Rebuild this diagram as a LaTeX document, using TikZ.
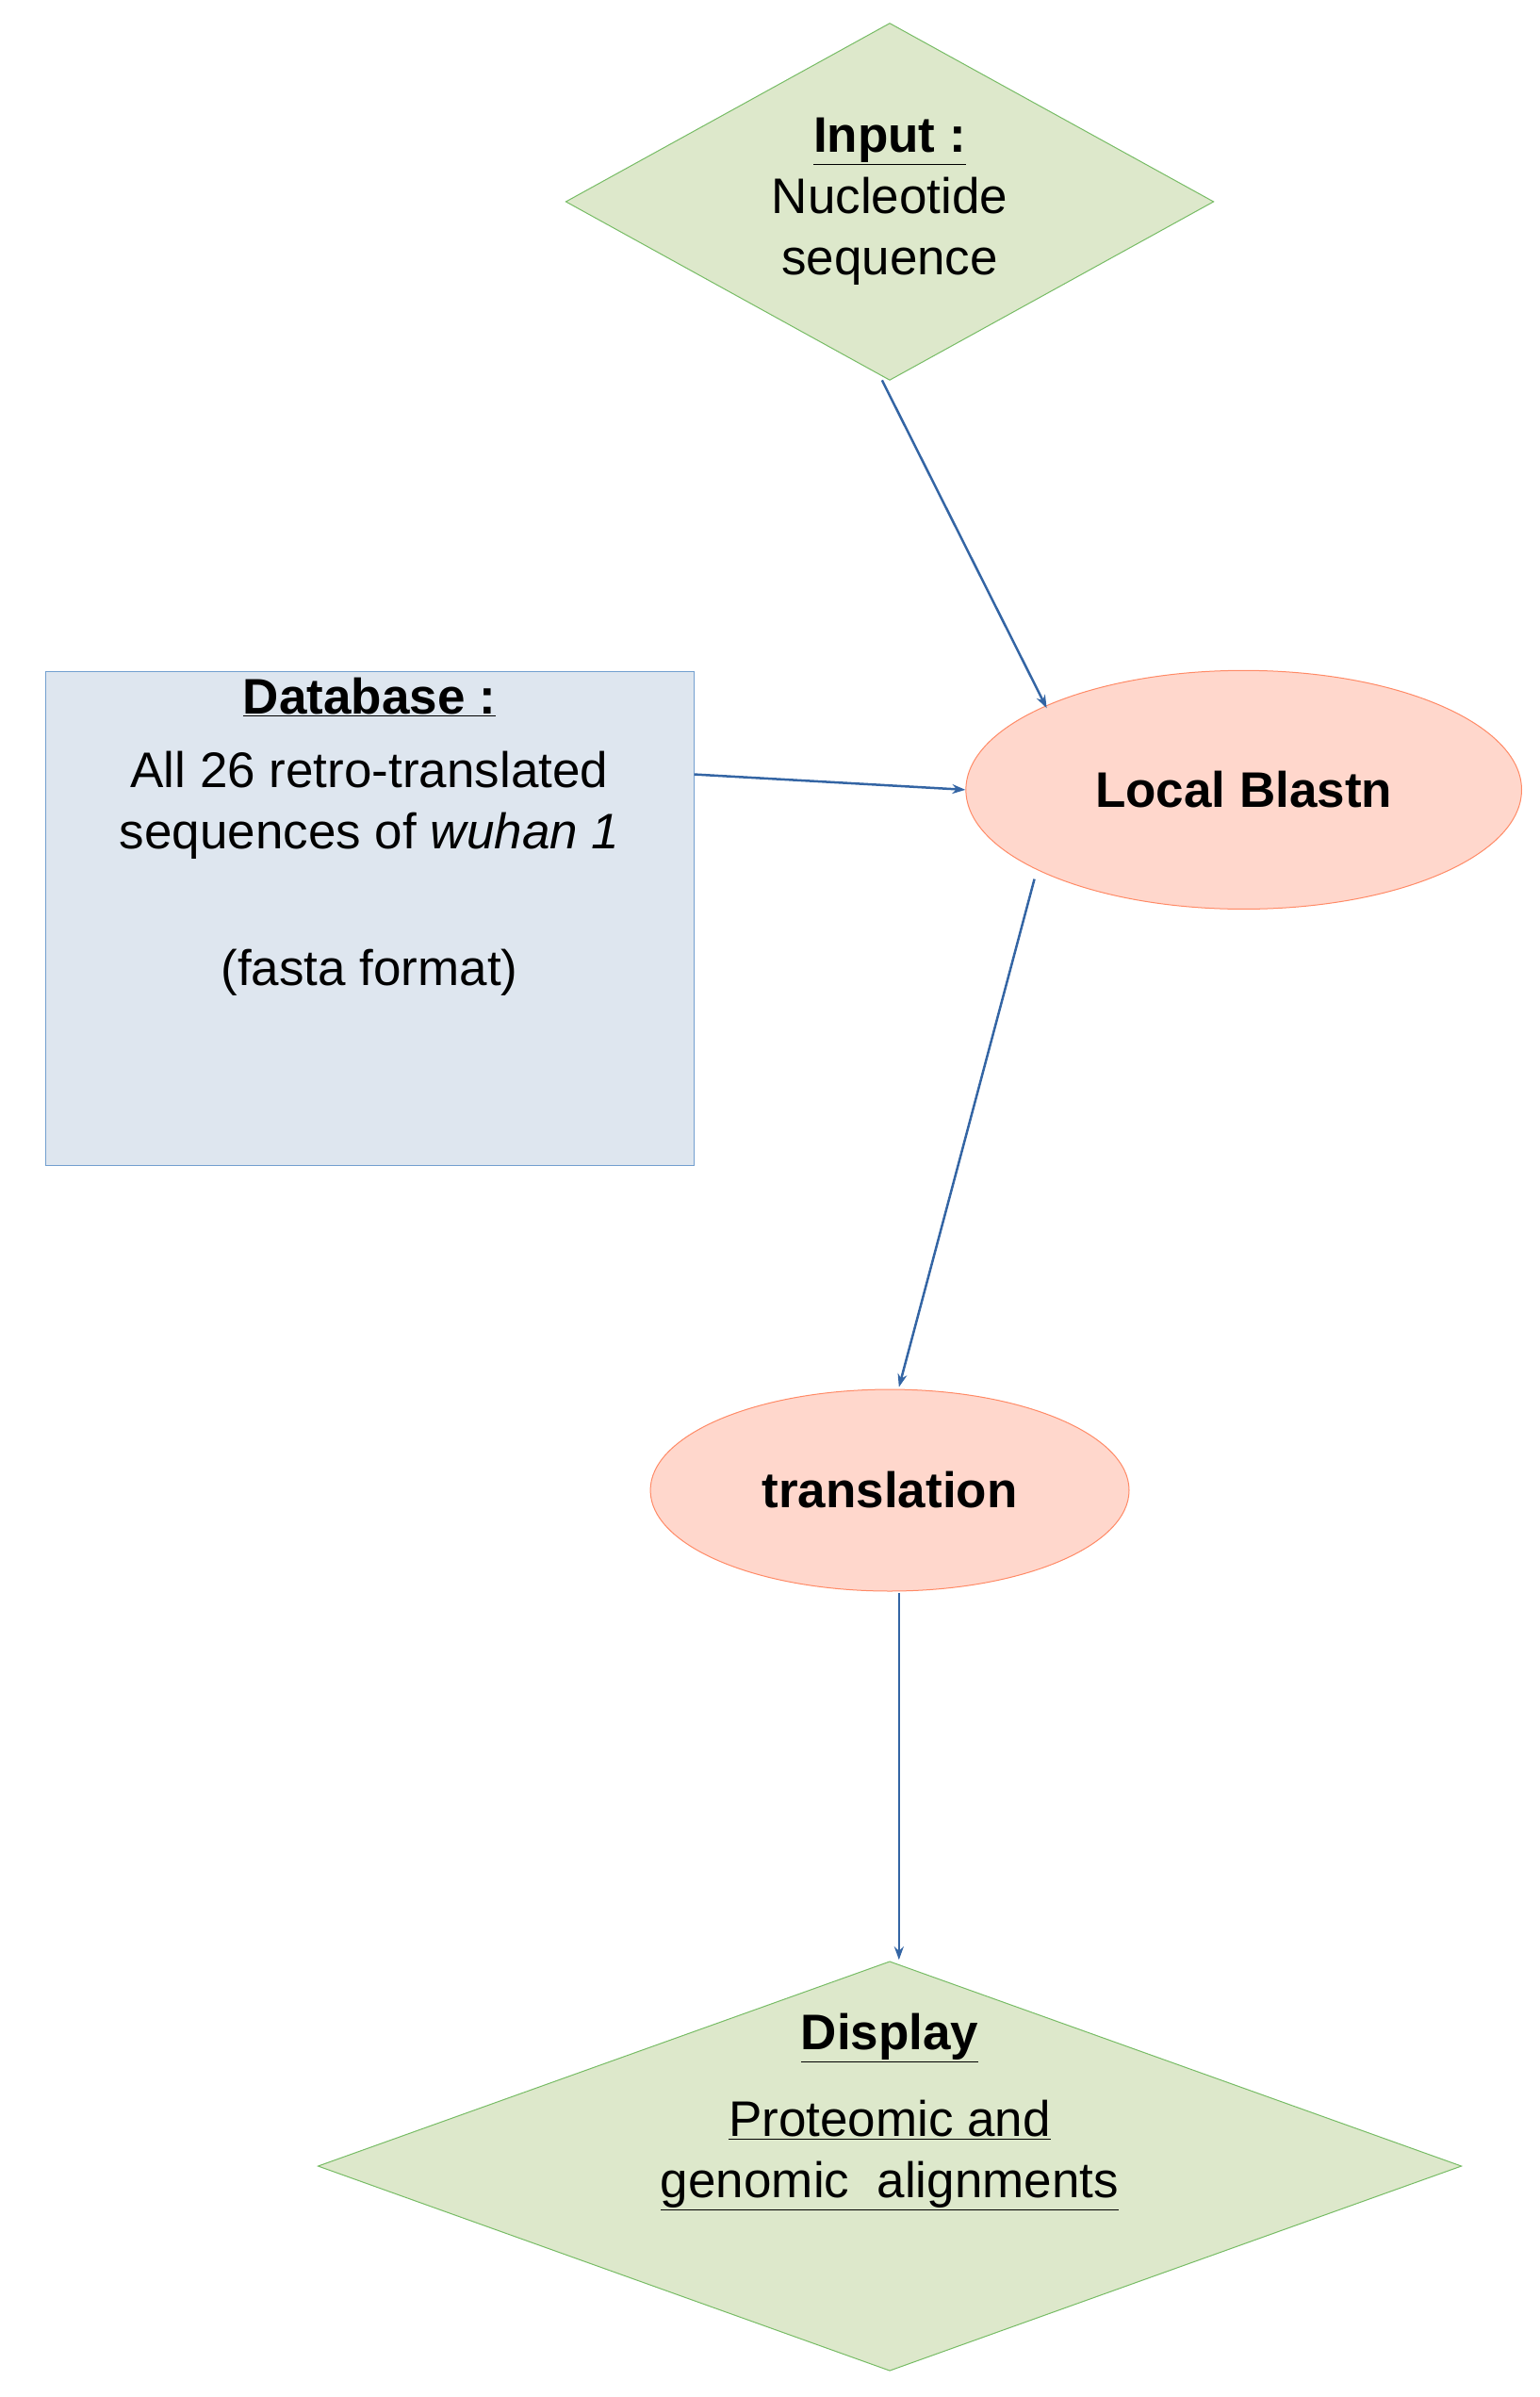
\documentclass[tikz,border=0pt]{standalone}
\usepackage{fontspec}
\setmainfont{Liberation Sans}
\usetikzlibrary{shapes.geometric,arrows.meta}
\definecolor{grn}{HTML}{DDE8CB}
\definecolor{grnb}{HTML}{77BC65}
\definecolor{blu}{HTML}{DEE6EF}
\definecolor{blub}{HTML}{729FCF}
\definecolor{pch}{HTML}{FFD7CC}
\definecolor{pchb}{HTML}{FF8A66}
\definecolor{arr}{HTML}{3465A4}
\begin{document}
\begin{tikzpicture}[x=1.633pt,y=-1.633pt,
  txt/.style={font=\fontsize{53}{65}\selectfont,align=center,inner sep=0},
  dia/.style={diamond,draw=grnb,fill=grn,line width=1pt,inner sep=0},
  ell/.style={ellipse,draw=pchb,fill=pch,line width=1pt,inner sep=0},
  con/.style={draw=arr,line width=2.5pt,-{Stealth[length=14pt,width=10pt]}}]
\useasboundingbox (0,0) rectangle (1000,1557);
\node[dia,minimum width=421*1.633pt,minimum height=232*1.633pt] (in) at (578,131) {};
\node[txt] (intxt) at (578,131) {\textbf{\underline{Input :}}\\Nucleotide\\sequence};
\node[draw=blub,fill=blu,line width=1pt,minimum width=421*1.633pt,minimum height=321*1.633pt,inner sep=0] (db) at (240.5,596.5) {};
\node[txt,anchor=north] (dbtxt) at (240,440) {\textbf{\underline{Database :}}\\[13pt]All 26 retro-translated\\sequences of \textit{wuhan 1}\\[80pt](fasta format)};
\node[ell,minimum width=361*1.633pt,minimum height=155*1.633pt] (bl) at (808,513) {};
\node[txt] (bltxt) at (808,513) {\textbf{Local Blastn}};
\node[ell,minimum width=311*1.633pt,minimum height=131*1.633pt] (tr) at (578,968) {};
\node[txt] (trtxt) at (578,968) {\textbf{translation}};
\node[dia,minimum width=743*1.633pt,minimum height=266*1.633pt] (dp) at (578,1407) {};
\node[txt,anchor=north] (dptxt) at (578,1308) {\textbf{\underline{Display}}\\[27pt]\underline{Proteomic and}\\\underline{genomic\ \ alignments}};
\coordinate (a1) at (573,247); \coordinate (a2) at (680,460);
\draw[con] (a1) -- (a2);
\coordinate (b1) at (451,503);
\draw[con] (b1) -- (bl.west);
\coordinate (c1) at (672,571); \coordinate (c2) at (584,901);
\draw[con] (c1) -- (c2);
\coordinate (d1) at (584,1035); \coordinate (d2) at (584,1273);
\draw[con] (d1) -- (d2);
\end{tikzpicture}
\end{document}
